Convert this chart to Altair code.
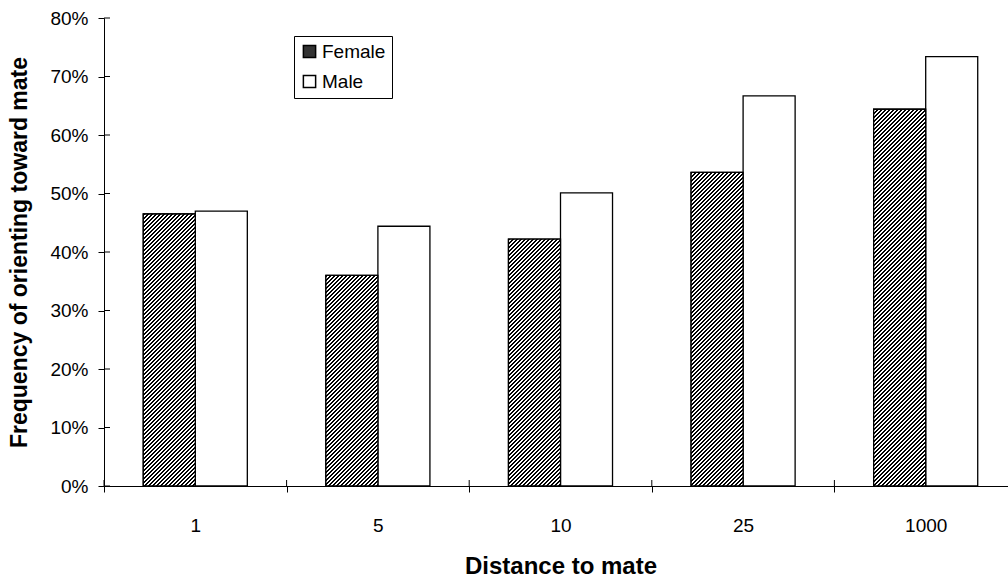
import altair as alt
import pandas as pd

# ---- data ----
distances = ["1", "5", "10", "25", "1000"]
female = [46.5, 36.0, 42.2, 53.6, 64.4]
male = [47.0, 44.4, 50.1, 66.7, 73.4]
sexes = ["Female", "Male"]
y_ticks = [0, 10, 20, 30, 40, 50, 60, 70, 80]

# ---- layout (pixels) ----
PLOT_W = 904          # visible plot width (104 -> 1008)
PLOT_H = 468
RANGE_W = 913         # the category axis runs a little past the window edge
Y_MAX = 80
BAR_W = 52
HATCH_PERIOD = 4.0

rows = []
for d, f, m in zip(distances, female, male):
    rows.append({"dist": d, "sex": "Female", "v": f})
    rows.append({"dist": d, "sex": "Male", "v": m})
df = pd.DataFrame(rows)
tick_df = pd.DataFrame({"t": y_ticks})
dist_df = pd.DataFrame({"dist": distances})

FONT = "Liberation Sans"

x_scale = alt.Scale(domain=distances, range=[0, RANGE_W], paddingInner=0, paddingOuter=0)
xoff_scale = alt.Scale(domain=sexes, paddingInner=0, paddingOuter=0.755)
y_scale = alt.Scale(domain=[0, Y_MAX], nice=False, zero=True)

x_axis = alt.Axis(
    title="Distance to mate", labelAngle=0, labelFontSize=19, labelColor="black",
    labelPadding=24, tickBand="extent", tickSize=6, tickColor="black",
    domainColor="black", grid=False, titleFontSize=24, titleFontWeight="bold",
    titleColor="black", titleY=87, titleBaseline="alphabetic",
)
y_axis = alt.Axis(
    title="Frequency of orienting toward mate", values=y_ticks,
    labelExpr="datum.value + '%'", labelFontSize=19, labelColor="black",
    labelPadding=10, tickSize=6, tickColor="black", domainColor="black",
    grid=False, titleFontSize=23, titleFontWeight="bold", titleColor="black",
    titleX=-78, titleY=PLOT_H / 2, titleAngle=270, titleBaseline="alphabetic",
)

x_enc = alt.X("dist:N", scale=x_scale, sort=distances, axis=x_axis)
xo_enc = alt.XOffset("sex:N", scale=xoff_scale, sort=sexes)
y_enc = alt.Y("v:Q", scale=y_scale, axis=y_axis)


def hatch(value):
    """Diagonal '////' hatch as a linear gradient over the bar's bounding box."""
    h = value / Y_MAX * PLOT_H
    w = BAR_W
    c = (w + h) / (w * w + h * h)
    span = w + h
    n = int(span / HATCH_PERIOD) + 1
    pt = HATCH_PERIOD / span
    stops = []
    for k in range(n):
        t0 = k * pt
        t1 = t0 + 0.5 * pt
        t2 = t0 + pt
        for off, col in ((t0, "black"), (min(t1, 1), "black"),
                         (min(t1, 1), "white"), (min(t2, 1), "white")):
            stops.append({"offset": round(min(off, 1.0), 5), "color": col})
        if t2 >= 1:
            break
    return {"gradient": "linear", "x1": 0, "y1": 0, "x2": c * w, "y2": c * h,
            "stops": stops}


base = alt.Chart(df).mark_bar(stroke="black", strokeWidth=1.3).encode(
    x=x_enc,
    xOffset=xo_enc,
    y=y_enc,
    fill=alt.Fill(
        "sex:N",
        scale=alt.Scale(domain=sexes, range=["#333333", "white"]),
        legend=alt.Legend(
            title=None, orient="none", legendX=190, legendY=18,
            direction="vertical", symbolType="square", symbolSize=150,
            symbolStrokeColor="black", symbolStrokeWidth=1.5,
            labelFontSize=19, labelColor="black", labelOffset=3,
            rowPadding=10, padding=6, strokeColor="black",
            fillColor="white", cornerRadius=0,
        ),
    ),
)

layers = [base]
for d, f in zip(distances, female):
    sub = pd.DataFrame([{"dist": d, "sex": "Female", "v": f}])
    layers.append(
        alt.Chart(sub).mark_bar(fill=hatch(f), stroke="black", strokeWidth=1.3).encode(
            x=x_enc, xOffset=xo_enc, y=y_enc
        )
    )

# inward halves of the axis ticks (the ticks cross the axis lines)
y_in = alt.Chart(tick_df).mark_rule(color="black", strokeWidth=1).encode(
    y=alt.Y("t:Q", scale=y_scale, axis=y_axis),
    x=alt.value(0),
    x2=alt.value(6),
)
x_in = alt.Chart(dist_df).mark_rule(color="black", strokeWidth=1).encode(
    x=alt.X("dist:N", scale=x_scale, sort=distances, axis=x_axis, bandPosition=0),
    y=alt.value(PLOT_H - 6),
    y2=alt.value(PLOT_H),
)
layers += [y_in, x_in]

chart = alt.layer(*layers).properties(
    width=PLOT_W,
    height=PLOT_H,
    autosize=alt.AutoSizeParams(type="none"),
    padding={"left": 104, "top": 18, "right": 0, "bottom": 92},
).configure(
    font=FONT,
).configure_view(
    stroke=None,
)

chart.save("out.html", embed_options={"renderer": "svg", "actions": False})
